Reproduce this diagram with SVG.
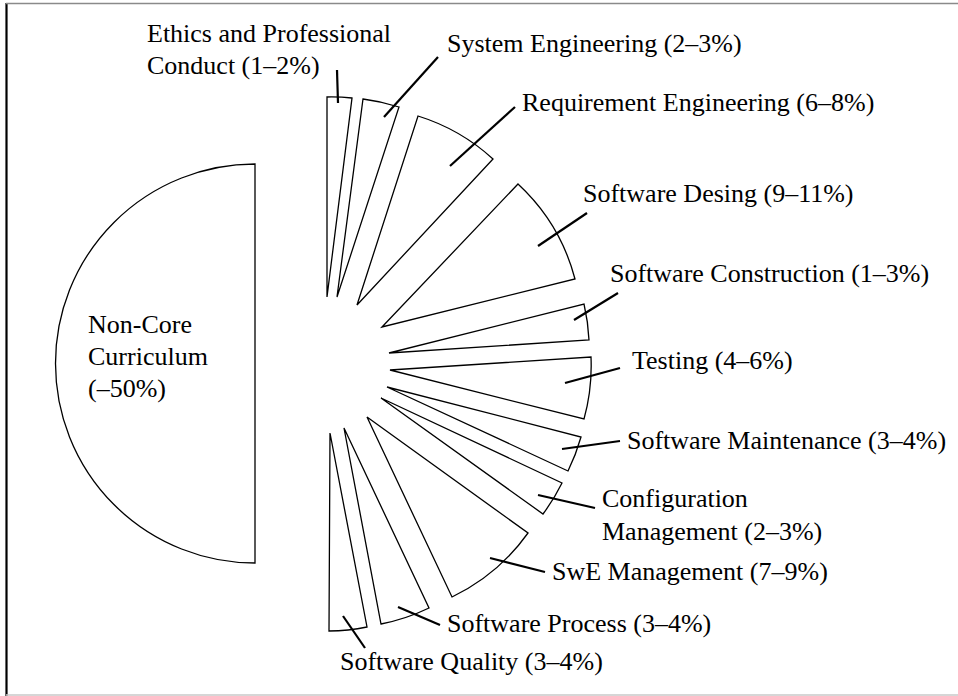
<svg xmlns="http://www.w3.org/2000/svg" width="958" height="696" viewBox="0 0 958 696">
<style>
.w{fill:#fff;stroke:#000;stroke-width:1.3;stroke-linejoin:miter}
.ld{stroke:#000;stroke-width:2.2;fill:none}
text{font-family:"Liberation Serif","Times New Roman",serif;font-size:26px;fill:#000}
</style>
<rect x="0" y="0" width="958" height="696" fill="#fff"/>
<g id="frame">
<line x1="6.5" y1="3" x2="6.5" y2="696" stroke="#000" stroke-width="2.2"/>
<line x1="6" y1="3.5" x2="958" y2="3.5" stroke="#8a8a8a" stroke-width="1.5"/>
<line x1="6" y1="695" x2="958" y2="695" stroke="#c8c8c8" stroke-width="1.5"/>
</g>
<g id="noncore">
<path class="w" d="M255,164 A199.5,199.5 0 0,0 255,563 Z"/>
<text x="88" y="333">Non-Core</text>
<text x="88" y="365">Curriculum</text>
<text x="88" y="397">(–50%)</text>
</g>
<g id="ethics">
<path class="w" d="M327,297 L327,97 A200,200 0 0,1 352,98 Z"/>
<text x="147" y="42">Ethics and Professional</text>
<text x="147" y="74">Conduct (1–2%)</text>
</g>
<g id="system">
<path class="w" d="M337,297 L363,99 A200,200 0 0,1 399,107 Z"/>
<text x="447" y="52">System Engineering (2–3%)</text>
</g>
<g id="requirement">
<path class="w" d="M357,305 L418,116 A199,199 0 0,1 493,159 Z"/>
<text x="522" y="111">Requirement Engineering (6–8%)</text>
</g>
<g id="design">
<path class="w" d="M382,327 L518,184 A198,198 0 0,1 575,279 Z"/>
<text x="583" y="202">Software Desing (9–11%)</text>
</g>
<g id="construction">
<path class="w" d="M389,353 L584,304 A200,200 0 0,1 589,340 Z"/>
<text x="610" y="282">Software Construction (1–3%)</text>
</g>
<g id="testing">
<path class="w" d="M390,370 L591,357 A200,200 0 0,1 584,419 Z"/>
<text x="632" y="369">Testing (4–6%)</text>
</g>
<g id="maintenance">
<path class="w" d="M387,387 L581,437 A200,200 0 0,1 568,471 Z"/>
<text x="627" y="449">Software Maintenance (3–4%)</text>
</g>
<g id="configuration">
<path class="w" d="M381,398 L562,483 A200,200 0 0,1 543,514 Z"/>
<text x="602" y="507">Configuration</text>
<text x="602" y="540">Management (2–3%)</text>
</g>
<g id="swe-management">
<path class="w" d="M367,417 L528,533 A199,199 0 0,1 452,597 Z"/>
<text x="552" y="580">SwE Management (7–9%)</text>
</g>
<g id="process">
<path class="w" d="M344,428 L429,608 A199,199 0 0,1 381,624 Z"/>
<text x="447" y="632">Software Process (3–4%)</text>
</g>
<g id="quality">
<path class="w" d="M330,433 L367,627 A198,198 0 0,1 329,631 Z"/>
<text x="340" y="670">Software Quality (3–4%)</text>
</g>
<g id="connectors">
<line class="ld" x1="337" y1="70" x2="338" y2="103"/>
<line class="ld" x1="438" y1="57" x2="384" y2="117"/>
<line class="ld" x1="515" y1="107" x2="450" y2="166"/>
<line class="ld" x1="587" y1="213" x2="538" y2="246"/>
<line class="ld" x1="618" y1="293" x2="574" y2="320"/>
<line class="ld" x1="620" y1="368" x2="565" y2="383"/>
<line class="ld" x1="620" y1="441" x2="562" y2="449"/>
<line class="ld" x1="595" y1="508" x2="538" y2="495"/>
<line class="ld" x1="545" y1="572" x2="490" y2="558"/>
<line class="ld" x1="440" y1="625" x2="398" y2="607"/>
<line class="ld" x1="365" y1="648" x2="343" y2="616"/>
</g>
</svg>
